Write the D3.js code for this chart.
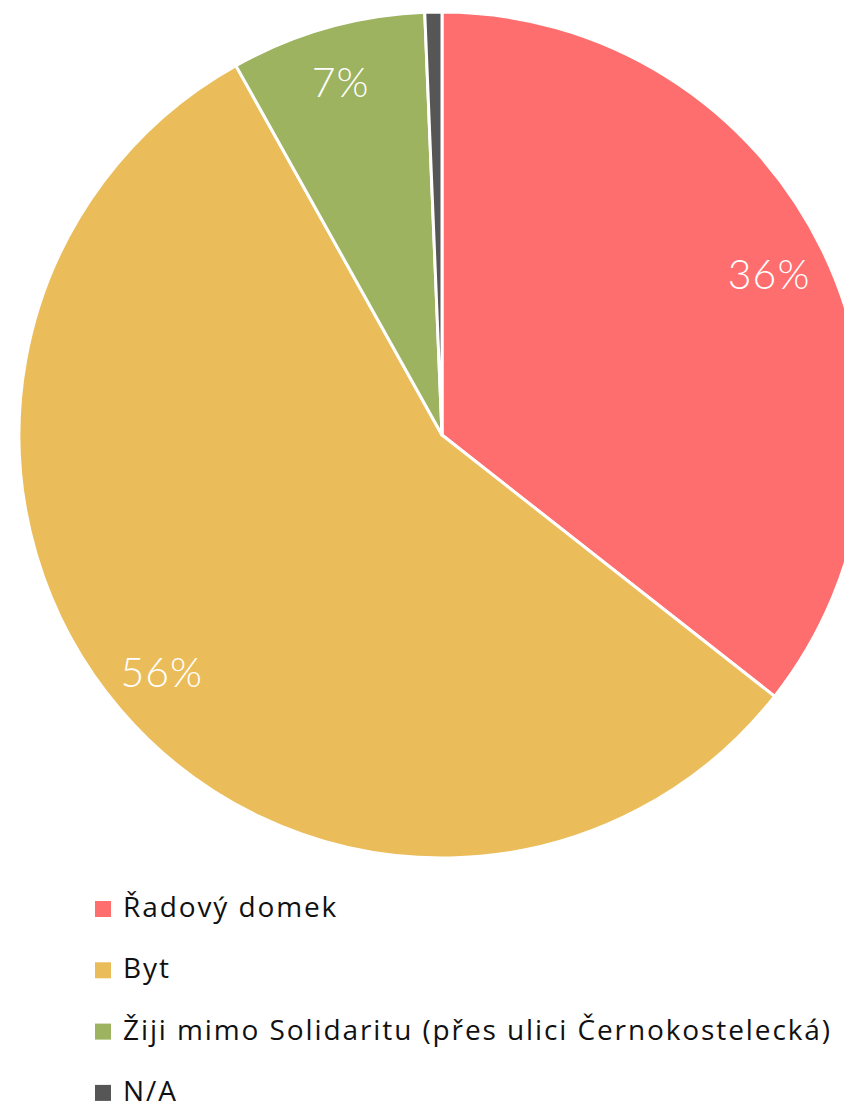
<!DOCTYPE html>
<html>
<head>
<meta charset="utf-8">
<script src="https://cdn.jsdelivr.net/npm/d3@7"></script>
<style>
  body { margin: 0; background: #fff; }
  svg { display: block; }
</style>
</head>
<body>
<svg id="chart" width="844" height="1108"></svg>
<script>
// data
var categories = ["Řadový domek", "Byt", "Žiji mimo Solidaritu (přes ulici Černokostelecká)", "N/A"];
var values = [35.6, 56.3, 7.45, 0.65]; // percent
var colors = ["#ff6e6e", "#ebbd5a", "#9db360", "#565656"];

var svg = d3.select("#chart");
var cx = 442, cy = 435, radius = 423;

var pie = d3.pie().sort(null).value(function (d) { return d; });
var arc = d3.arc().innerRadius(0).outerRadius(radius);
var labelArc = d3.arc().innerRadius(radius * 0.865).outerRadius(radius * 0.865);

var g = svg.append("g").attr("transform", "translate(" + cx + "," + cy + ")");
var arcs = pie(values);

g.selectAll("path")
  .data(arcs)
  .enter().append("path")
  .attr("d", arc)
  .attr("fill", function (d, i) { return colors[i]; })
  .attr("stroke", "#fff")
  .attr("stroke-width", 3)
  .attr("stroke-linejoin", "round");

// percent labels, skip tiny slices
g.selectAll("text")
  .data(arcs.filter(function (d) { return d.value >= 2; }))
  .enter().append("text")
  .attr("transform", function (d) { return "translate(" + labelArc.centroid(d) + ")"; })
  .attr("x", -2)
  .attr("text-anchor", "middle")
  .attr("dy", "0.35em")
  .style("font-family", "Lato, sans-serif")
  .style("font-weight", 300)
  .style("font-size", "41px")
  .style("letter-spacing", "1px")
  .attr("fill", "#fff")
  .text(function (d) { return Math.round(d.value) + "%"; });

// legend
var legend = svg.append("g").attr("transform", "translate(95,908)");
var rowH = 61.3;
var row = legend.selectAll("g")
  .data(categories)
  .enter().append("g")
  .attr("transform", function (d, i) { return "translate(0," + (i * rowH) + ")"; });

row.append("rect")
  .attr("x", 0).attr("y", -7)
  .attr("width", 16).attr("height", 16)
  .attr("fill", function (d, i) { return colors[i]; });

row.append("text")
  .attr("x", 28)
  .attr("y", 9)
  .style("font-family", "'Open Sans', sans-serif")
  .style("font-size", "28px")
  .style("letter-spacing", "1.9px")
  .attr("fill", "#111")
  .text(function (d) { return d; });
</script>
</body>
</html>
